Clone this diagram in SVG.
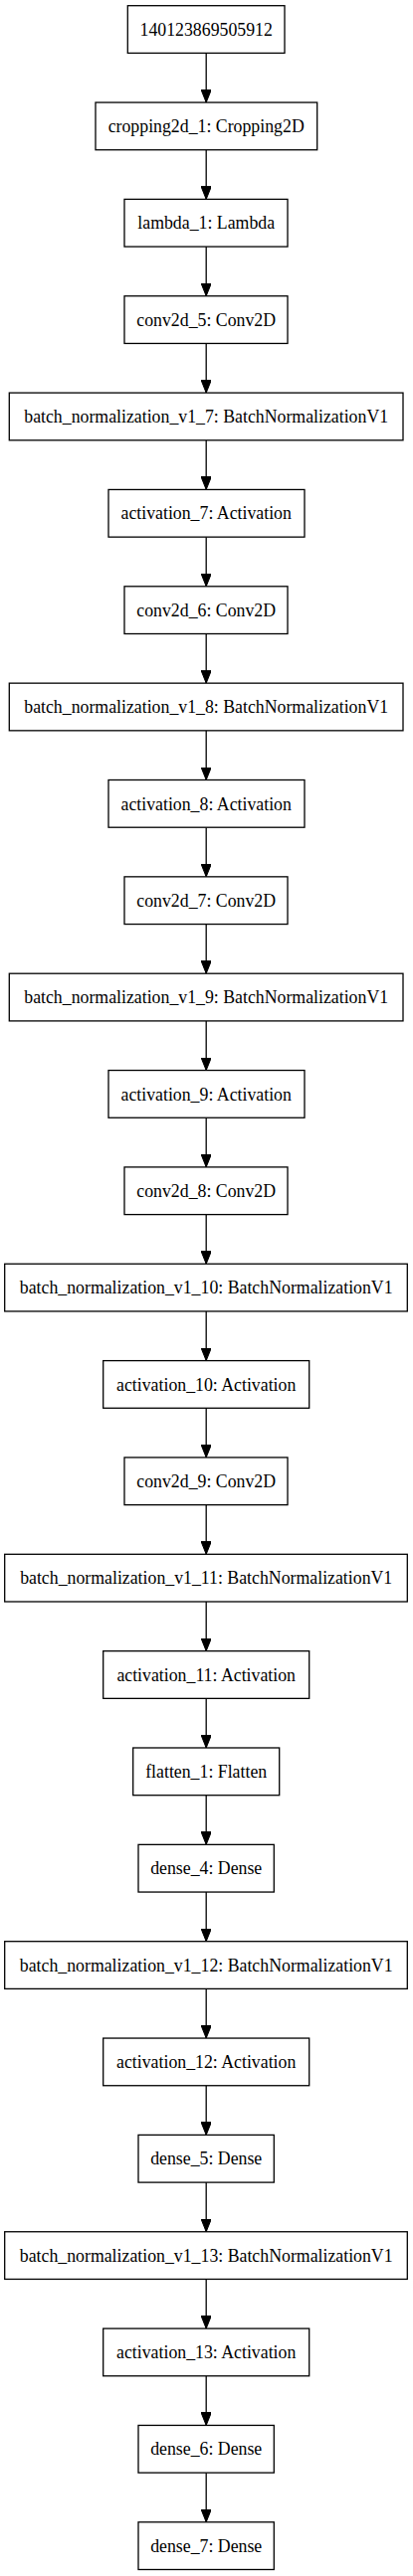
<svg xmlns="http://www.w3.org/2000/svg" width="415" height="2591" viewBox="0 0 415 2591">
<style>
.n rect{fill:#fff;stroke:#000;stroke-width:1.3}
.n text{font-family:"Liberation Serif","Times New Roman",serif;font-size:17.8px;text-anchor:middle;fill:#000}
.e line{stroke:#000;stroke-width:1.3;marker-end:url(#ah)}
</style>
<defs>
<marker id="ah" markerUnits="userSpaceOnUse" markerWidth="13" markerHeight="10.4" viewBox="0 0 13 10.4" refX="13" refY="5.2" orient="auto">
<polygon points="0,0 13,5.2 0,10.4" fill="#000" stroke="#000" stroke-width="1"/>
</marker>
</defs>
<rect width="415" height="2591" fill="#fff"/>
<g id="connectors" class="e">
<line x1="207.2" y1="53.4" x2="207.2" y2="103.05"/>
<line x1="207.2" y1="150.75" x2="207.2" y2="200.4"/>
<line x1="207.2" y1="248.1" x2="207.2" y2="297.75"/>
<line x1="207.2" y1="345.45" x2="207.2" y2="395.1"/>
<line x1="207.2" y1="442.8" x2="207.2" y2="492.45"/>
<line x1="207.2" y1="540.15" x2="207.2" y2="589.8"/>
<line x1="207.2" y1="637.5" x2="207.2" y2="687.15"/>
<line x1="207.2" y1="734.85" x2="207.2" y2="784.5"/>
<line x1="207.2" y1="832.2" x2="207.2" y2="881.85"/>
<line x1="207.2" y1="929.55" x2="207.2" y2="979.2"/>
<line x1="207.2" y1="1026.9" x2="207.2" y2="1076.55"/>
<line x1="207.2" y1="1124.25" x2="207.2" y2="1173.9"/>
<line x1="207.2" y1="1221.6" x2="207.2" y2="1271.25"/>
<line x1="207.2" y1="1318.95" x2="207.2" y2="1368.6"/>
<line x1="207.2" y1="1416.3" x2="207.2" y2="1465.95"/>
<line x1="207.2" y1="1513.65" x2="207.2" y2="1563.3"/>
<line x1="207.2" y1="1611" x2="207.2" y2="1660.65"/>
<line x1="207.2" y1="1708.35" x2="207.2" y2="1758"/>
<line x1="207.2" y1="1805.7" x2="207.2" y2="1855.35"/>
<line x1="207.2" y1="1903.05" x2="207.2" y2="1952.7"/>
<line x1="207.2" y1="2000.4" x2="207.2" y2="2050.05"/>
<line x1="207.2" y1="2097.75" x2="207.2" y2="2147.4"/>
<line x1="207.2" y1="2195.1" x2="207.2" y2="2244.75"/>
<line x1="207.2" y1="2292.45" x2="207.2" y2="2342.1"/>
<line x1="207.2" y1="2389.8" x2="207.2" y2="2439.45"/>
<line x1="207.2" y1="2487.15" x2="207.2" y2="2536.8"/>
</g>
<g id="n0" class="n"><rect x="128.3" y="5.7" width="157.7" height="47.7"/><text x="207.2" y="35.6">140123869505912</text></g>
<g id="n1" class="n"><rect x="96" y="103.05" width="222.7" height="47.7"/><text x="207.2" y="133">cropping2d_1: Cropping2D</text></g>
<g id="n2" class="n"><rect x="125" y="200.4" width="164" height="47.7"/><text x="207.2" y="230.4">lambda_1: Lambda</text></g>
<g id="n3" class="n"><rect x="125" y="297.75" width="164" height="47.7"/><text x="207.2" y="327.7">conv2d_5: Conv2D</text></g>
<g id="n4" class="n"><rect x="9.3" y="395.1" width="395.7" height="47.7"/><text x="207.2" y="425">batch_normalization_v1_7: BatchNormalizationV1</text></g>
<g id="n5" class="n"><rect x="109" y="492.45" width="197" height="47.7"/><text x="207.2" y="522.4">activation_7: Activation</text></g>
<g id="n6" class="n"><rect x="125" y="589.8" width="164" height="47.7"/><text x="207.2" y="619.8">conv2d_6: Conv2D</text></g>
<g id="n7" class="n"><rect x="9.3" y="687.15" width="395.7" height="47.7"/><text x="207.2" y="717.1">batch_normalization_v1_8: BatchNormalizationV1</text></g>
<g id="n8" class="n"><rect x="109" y="784.5" width="197" height="47.7"/><text x="207.2" y="814.5">activation_8: Activation</text></g>
<g id="n9" class="n"><rect x="125" y="881.85" width="164" height="47.7"/><text x="207.2" y="911.8">conv2d_7: Conv2D</text></g>
<g id="n10" class="n"><rect x="9.3" y="979.2" width="395.7" height="47.7"/><text x="207.2" y="1009.2">batch_normalization_v1_9: BatchNormalizationV1</text></g>
<g id="n11" class="n"><rect x="109" y="1076.55" width="197" height="47.7"/><text x="207.2" y="1106.5">activation_9: Activation</text></g>
<g id="n12" class="n"><rect x="125" y="1173.9" width="164" height="47.7"/><text x="207.2" y="1203.9">conv2d_8: Conv2D</text></g>
<g id="n13" class="n"><rect x="4.7" y="1271.25" width="404.6" height="47.7"/><text x="207.2" y="1301.2">batch_normalization_v1_10: BatchNormalizationV1</text></g>
<g id="n14" class="n"><rect x="103.7" y="1368.6" width="207" height="47.7"/><text x="207.2" y="1398.6">activation_10: Activation</text></g>
<g id="n15" class="n"><rect x="125" y="1465.95" width="164" height="47.7"/><text x="207.2" y="1495.9">conv2d_9: Conv2D</text></g>
<g id="n16" class="n"><rect x="4.7" y="1563.3" width="404.6" height="47.7"/><text x="207.2" y="1593.3">batch_normalization_v1_11: BatchNormalizationV1</text></g>
<g id="n17" class="n"><rect x="103.7" y="1660.65" width="207" height="47.7"/><text x="207.2" y="1690.6">activation_11: Activation</text></g>
<g id="n18" class="n"><rect x="133.7" y="1758" width="147" height="47.7"/><text x="207.2" y="1788">flatten_1: Flatten</text></g>
<g id="n19" class="n"><rect x="139" y="1855.35" width="136.3" height="47.7"/><text x="207.2" y="1885.3">dense_4: Dense</text></g>
<g id="n20" class="n"><rect x="4.7" y="1952.7" width="404.6" height="47.7"/><text x="207.2" y="1982.7">batch_normalization_v1_12: BatchNormalizationV1</text></g>
<g id="n21" class="n"><rect x="103.7" y="2050.05" width="207" height="47.7"/><text x="207.2" y="2080">activation_12: Activation</text></g>
<g id="n22" class="n"><rect x="139" y="2147.4" width="136.3" height="47.7"/><text x="207.2" y="2177.4">dense_5: Dense</text></g>
<g id="n23" class="n"><rect x="4.7" y="2244.75" width="404.6" height="47.7"/><text x="207.2" y="2274.7">batch_normalization_v1_13: BatchNormalizationV1</text></g>
<g id="n24" class="n"><rect x="103.7" y="2342.1" width="207" height="47.7"/><text x="207.2" y="2372.1">activation_13: Activation</text></g>
<g id="n25" class="n"><rect x="139" y="2439.45" width="136.3" height="47.7"/><text x="207.2" y="2469.4">dense_6: Dense</text></g>
<g id="n26" class="n"><rect x="139" y="2536.8" width="136.3" height="47.7"/><text x="207.2" y="2566.8">dense_7: Dense</text></g>
</svg>
